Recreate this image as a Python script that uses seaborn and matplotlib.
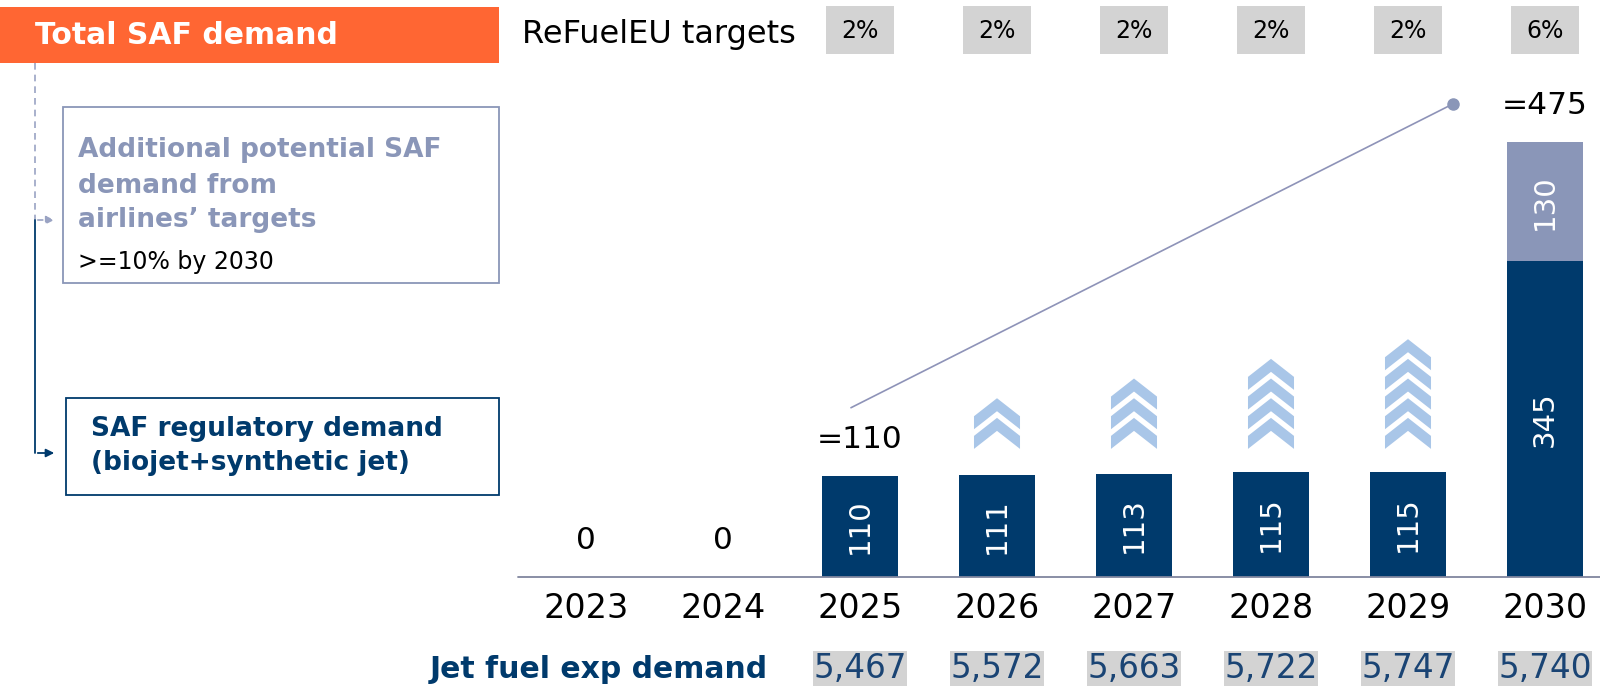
import numpy as np
import pandas as pd
import seaborn as sns
import matplotlib.pyplot as plt
import matplotlib.transforms as mtransforms
from matplotlib.patches import Rectangle

# Chart data
years = ['2023', '2024', '2025', '2026', '2027', '2028', '2029', '2030']
regulatory = [0, 0, 110, 111, 113, 115, 115, 345]
additional = [0, 0, 0, 0, 0, 0, 0, 130]
top_labels = ['0', '0', '=110', '', '', '', '', '=475']
chevron_counts = [0, 0, 0, 2, 3, 4, 5, 0]
refuel_targets = ['', '', '2%', '2%', '2%', '2%', '2%', '6%']
jet_fuel_demand = ['', '', '5,467', '5,572', '5,663', '5,722', '5,747', '5,740']

NAVY = '#003A6C'
LIGHT = '#8A96B8'
CHEVRON = '#A9C6E8'
ORANGE = '#FF6633'
GREY_BOX = '#D3D3D3'
NUM_BLUE = '#1A4474'

df = pd.DataFrame({'year': years, 'regulatory': regulatory, 'additional': additional})
df['total'] = df['regulatory'] + df['additional']

sns.set_style('white')
plt.rcParams['font.family'] = ['DejaVu Sans']
plt.rcParams['text.color'] = 'black'

W, H = 1600, 695
fig = plt.figure(figsize=(16, 6.95), dpi=100)
ax = fig.add_axes([0, 0, 1, 1])

# stacked bars: total (light) underneath, regulatory (navy) on top
sns.barplot(data=df, x='year', y='total', color=LIGHT, width=0.555,
            saturation=1, linewidth=0, errorbar=None, ax=ax)
sns.barplot(data=df, x='year', y='regulatory', color=NAVY, width=0.555,
            saturation=1, linewidth=0, errorbar=None, ax=ax)

# pixel layout: bar centre 586 + 137*i, baseline at y=577, 0.915 px per unit
ax.set_xlim(-586 / 137, (W - 586) / 137)
ax.set_ylim(-(H - 577) / 0.915, 577 / 0.915)
ax.axis('off')

trans = mtransforms.blended_transform_factory(ax.transData, ax.transAxes)


def fy(py):
    return 1 - py / H


# baseline
ax.plot([-0.496, 7.4], [0, 0], color='#80869e', lw=1.3, zorder=1)

# labels in and above bars
for i, row in df.iterrows():
    if row['regulatory'] > 0:
        ax.text(i, row['regulatory'] / 2, str(row['regulatory']), rotation=90,
                ha='center', va='center', color='white', fontsize=21)
    if row['additional'] > 0:
        ax.text(i, row['regulatory'] + row['additional'] / 2, str(row['additional']),
                rotation=90, ha='center', va='center', color='white', fontsize=21)
    if top_labels[i]:
        ax.text(i, row['total'] + 40, top_labels[i], ha='center', va='center',
                fontsize=22.5, color='black')

# growth chevrons
hw, a, t, p, base = 0.168, 19.7, 14.2, 21.5, 140
for i, n in enumerate(chevron_counts):
    for k in range(n):
        b = base + k * p
        xs = [i, i + hw, i + hw, i, i - hw, i - hw]
        ys = [b + t + a, b + t, b, b + a, b, b + t]
        ax.fill(xs, ys, color=CHEVRON, lw=0)

# line from 2025 total to 2030 total
x0, y0 = 2 - 0.066, df['total'][2] + 75
x1, y1 = 7 - 0.672, df['total'][7] + 42
ax.plot([x0, x1], [y0, y1], color='#8E93B8', lw=1.2)
ax.plot([x1], [y1], 'o', color=LIGHT, ms=8)

# year labels
for i, y in enumerate(years):
    ax.text(i, fy(618), y, transform=trans, ha='center', va='baseline', fontsize=24)

# ReFuelEU target row
ax.text(522 / 137 - 586 / 137, fy(34), 'ReFuelEU targets', transform=trans,
        ha='left', va='center', fontsize=23)
for i, tg in enumerate(refuel_targets):
    if tg:
        ax.add_patch(Rectangle((i - 0.25, fy(54)), 0.5, 48 / H, transform=trans,
                               color=GREY_BOX, lw=0))
        ax.text(i, fy(31), tg, transform=trans, ha='center', va='center', fontsize=17)

# jet fuel demand row
ax.text(430 / 137 - 586 / 137, fy(678), 'Jet fuel exp demand', transform=trans,
        ha='left', va='baseline', fontsize=21.5, fontweight='bold', color=NAVY)
for i, v in enumerate(jet_fuel_demand):
    if v:
        ax.add_patch(Rectangle((i - 0.343, fy(686)), 0.686, 35 / H, transform=trans,
                               color=GREY_BOX, lw=0))
        ax.text(i, fy(678), v, transform=trans, ha='center', va='baseline',
                fontsize=23.5, color=NUM_BLUE)

# left legend panel (figure coordinates)
ft = fig.transFigure
fig.patches.append(Rectangle((0, fy(63)), 499 / W, 56 / H, transform=ft,
                             color=ORANGE, lw=0))
fig.text(35 / W, fy(35), 'Total SAF demand', ha='left', va='center',
         fontsize=21.5, fontweight='bold', color='white')

fig.patches.append(Rectangle((63 / W, fy(283)), 436 / W, 176 / H, transform=ft,
                             fill=False, edgecolor=LIGHT, lw=1.3))
for txt, base_y in [('Additional potential SAF', 157), ('demand from', 193),
                    ('airlines\u2019 targets', 227)]:
    fig.text(78 / W, fy(base_y), txt, ha='left', va='baseline', fontsize=19,
             fontweight='bold', color=LIGHT)
fig.text(78 / W, fy(269), '>=10% by 2030', ha='left', va='baseline', fontsize=17)

fig.patches.append(Rectangle((66 / W, fy(495)), 433 / W, 97 / H, transform=ft,
                             fill=False, edgecolor=NAVY, lw=1.3))
fig.text(91 / W, fy(436), 'SAF regulatory demand', ha='left', va='baseline',
         fontsize=19, fontweight='bold', color=NAVY)
fig.text(91 / W, fy(470), '(biojet+synthetic jet)', ha='left', va='baseline',
         fontsize=19, fontweight='bold', color=NAVY)

# connectors
fig.lines.append(plt.Line2D([35 / W, 35 / W], [fy(63), fy(220)], transform=ft,
                            color='#9AA3C3', lw=1.2, ls=(0, (4, 3))))
fig.lines.append(plt.Line2D([35 / W, 35 / W], [fy(220), fy(453)], transform=ft,
                            color=NAVY, lw=1.3))
ax.annotate('', xy=(57 / W, fy(220)), xytext=(35 / W, fy(220)), xycoords=ft,
            textcoords=ft, arrowprops=dict(arrowstyle='-|>', color='#9AA3C3', lw=1.2,
                                           ls=(0, (3, 2)), mutation_scale=12))
ax.annotate('', xy=(57 / W, fy(453)), xytext=(35 / W, fy(453)), xycoords=ft,
            textcoords=ft, arrowprops=dict(arrowstyle='-|>', color=NAVY, lw=1.3,
                                           mutation_scale=12))

fig.savefig('out.png', dpi=100)
